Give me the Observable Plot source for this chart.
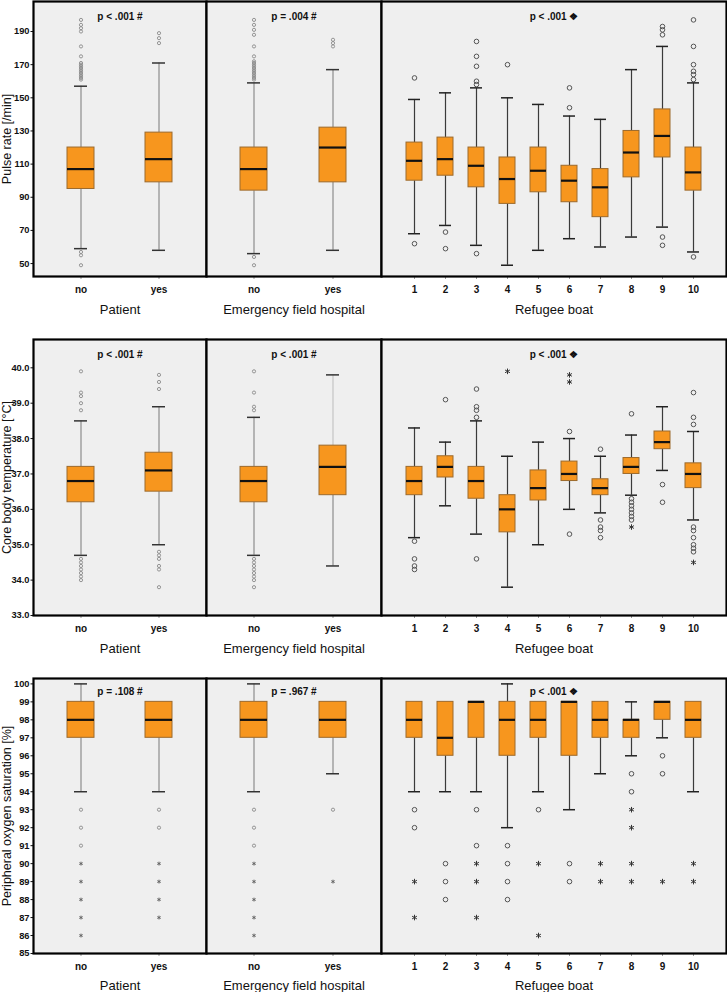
<!DOCTYPE html>
<html>
<head>
<meta charset="utf-8">
<script src="https://cdn.jsdelivr.net/npm/d3@7"></script>
<script src="https://cdn.jsdelivr.net/npm/@observablehq/plot@0.6"></script>
<style>
  html, body { margin: 0; padding: 0; background: #ffffff; }
  #root { position: relative; width: 727px; height: 992px; overflow: hidden; font-family: "Liberation Sans", Arial, sans-serif; }
  .panel { position: absolute; }
</style>
</head>
<body>
<div id="root"></div>
<script>
// ---------- categories ----------
const panelNames = ["Patient", "Emergency field hospital", "Refugee boat"];
const patientCats = ["no", "yes"];
const hospitalCats = ["no", "yes"];
const boatCats = ["1", "2", "3", "4", "5", "6", "7", "8", "9", "10"];
// order of all stats arrays: Patient no, yes | Hospital no, yes | Boat 1..10

// ---------- Pulse rate ----------
const pulseLabel = "Pulse rate [/min]";
const pulseTicks = [50, 70, 90, 110, 130, 150, 170, 190];
const pulseP = ["p < .001 #", "p = .004 #", "p < .001 \u2756"];
const pulseLo  = [59, 58, 56, 58, 68, 73, 61, 49, 58, 65, 60, 66, 72, 57];
const pulseQ1  = [95, 99, 94, 99, 100, 103, 96, 86, 93, 87, 78, 102, 114, 94];
const pulseMed = [107, 113, 107, 120, 112, 113, 109, 101, 106, 100, 96, 117, 127, 105];
const pulseQ3  = [120, 129, 120, 132, 123, 126, 120, 114, 120, 109, 107, 130, 143, 120];
const pulseHi  = [157, 171, 159, 167, 149, 153, 156, 150, 146, 139, 137, 167, 181, 159];
const pulseOutCircle = [
  [197, 194, 192, 190, 181, 175, 171, 170, 169, 168, 167, 166, 165, 164, 163, 162, 161, 57, 55, 49],
  [189, 186, 183],
  [197, 194, 191, 188, 181, 175, 172, 171, 170, 169, 168, 167, 166, 165, 164, 163, 162, 161, 54, 49],
  [185, 183, 181],
  [162, 62],
  [69, 59],
  [184, 175, 169, 160, 158, 56],
  [170],
  [],
  [156, 144],
  [],
  [],
  [193, 191, 188, 66, 61],
  [197, 181, 170, 166, 164, 161, 54]
];
const pulseOutStar = [[], [], [], [], [], [], [], [], [], [], [], [], [], []];

// ---------- Core body temperature ----------
const tempLabel = "Core body temperature [\u00B0C]";
const tempTicks = [33, 34, 35, 36, 37, 38, 39, 40];
const tempP = ["p < .001 #", "p < .001 #", "p < .001 \u2756"];
const tempLo  = [34.7, 35.0, 34.7, 34.4, 35.2, 36.1, 35.3, 33.8, 35.0, 36.0, 35.9, 36.4, 37.1, 35.7];
const tempQ1  = [36.2, 36.5, 36.2, 36.4, 36.4, 36.9, 36.3, 35.35, 36.25, 36.8, 36.4, 37.0, 37.7, 36.6];
const tempMed = [36.8, 37.1, 36.8, 37.2, 36.8, 37.2, 36.8, 36.0, 36.6, 37.0, 36.6, 37.2, 37.9, 37.0];
const tempQ3  = [37.2, 37.6, 37.2, 37.8, 37.2, 37.5, 37.2, 36.4, 37.1, 37.35, 36.85, 37.45, 38.2, 37.3];
const tempHi  = [38.5, 38.9, 38.6, 39.8, 38.3, 37.9, 38.5, 37.5, 37.9, 38.0, 37.5, 38.1, 38.9, 38.2];
const tempOutCircle = [
  [39.9, 39.3, 39.2, 39.0, 38.8, 34.6, 34.5, 34.4, 34.3, 34.2, 34.1, 34.0],
  [39.8, 39.6, 39.4, 34.8, 34.7, 34.6, 34.4, 34.3, 33.8],
  [39.9, 39.3, 38.9, 38.8, 34.6, 34.5, 34.4, 34.3, 34.2, 34.1, 34.0, 33.8],
  [],
  [35.1, 34.6, 34.4, 34.3],
  [39.1],
  [39.4, 38.9, 38.8, 38.6, 34.6],
  [],
  [],
  [38.2, 35.3],
  [37.7, 35.7, 35.5, 35.4, 35.2],
  [38.7, 36.3, 36.2, 36.1, 36.0, 35.9, 35.8, 35.7],
  [36.7, 36.2],
  [39.3, 38.6, 38.4, 35.5, 35.4, 35.2, 35.0, 34.9, 34.8]
];
const tempOutStar = [[], [], [], [], [], [], [], [39.9], [], [39.8, 39.6], [], [35.5], [], [34.5]];

// ---------- Peripheral oxygen saturation ----------
const spo2Label = "Peripheral oxygen saturation [%]";
const spo2Ticks = [85, 86, 87, 88, 89, 90, 91, 92, 93, 94, 95, 96, 97, 98, 99, 100];
const spo2P = ["p = .108 #", "p = .967 #", "p < .001 \u2756"];
const spo2Lo  = [94, 94, 94, 95, 94, 94, 94, 92, 94, 93, 95, 96, 97, 94];
const spo2Q1  = [97, 97, 97, 97, 97, 96, 97, 96, 97, 96, 97, 97, 98, 97];
const spo2Med = [98, 98, 98, 98, 98, 97, 99, 98, 98, 99, 98, 98, 99, 98];
const spo2Q3  = [99, 99, 99, 99, 99, 99, 99, 99, 99, 99, 99, 98, 99, 99];
const spo2Hi  = [100, 99, 100, 99, 99, 99, 99, 100, 99, 99, 99, 99, 99, 99];
const spo2OutCircle = [
  [93, 92, 91], [93, 92], [93, 92, 91], [93],
  [93, 92], [90, 89, 88], [93, 91], [91, 90, 89, 88], [93], [90, 89], [], [95, 94], [96, 95], []
];
const spo2OutStar = [
  [90, 89, 88, 87, 86], [90, 89, 88, 87], [90, 89, 88, 87, 86], [89],
  [89, 87], [], [90, 89, 87], [], [90, 86], [], [90, 89], [93, 92, 90, 89], [89], [90, 89]
];

// ---------- layout ----------
const FONT = "'Liberation Sans', Arial, Helvetica, sans-serif";
const BOX_FILL = "#f7961e";
const BOX_STROKE = "#9c6a2c";
const BG = "#efefef";

const rows = [
  {label: pulseLabel, ticks: pulseTicks, fmt: d3.format("d"), domain: [42.2, 208.1], p: pulseP,
   lo: pulseLo, q1: pulseQ1, med: pulseMed, q3: pulseQ3, hi: pulseHi, oc: pulseOutCircle, os: pulseOutStar,
   top: 0, height: 322, mt: 1, mb: 46, pdy: 11, tdy: 37},
  {label: tempLabel, ticks: tempTicks, fmt: d3.format(".1f"), domain: [33.0, 40.8], p: tempP,
   lo: tempLo, q1: tempQ1, med: tempMed, q3: tempQ3, hi: tempHi, oc: tempOutCircle, os: tempOutStar,
   top: 322, height: 338, mt: 17, mb: 45, pdy: 11, tdy: 37},
  {label: spo2Label, ticks: spo2Ticks, fmt: d3.format("d"), domain: [85, 100.3], p: spo2P,
   lo: spo2Lo, q1: spo2Q1, med: spo2Med, q3: spo2Q3, hi: spo2Hi, oc: spo2OutCircle, os: spo2OutStar,
   top: 660, height: 332, mt: 18, mb: 39, pdy: 9, tdy: 36}
];

const panels = [
  {cats: patientCats, offset: 0, left: 0, width: 207, ml: 33, pi: 0.658, po: 0.424, boat: false},
  {cats: hospitalCats, offset: 2, left: 205, width: 177, ml: 1, pi: 0.658, po: 0.424, boat: false},
  {cats: boatCats, offset: 4, left: 380, width: 347, ml: 1, pi: 0.49, po: 0.68, boat: true}
];

const root = document.getElementById("root");

rows.forEach((row, ri) => {
  panels.forEach((pan, pi) => {
    const stats = pan.cats.map((c, i) => {
      const k = pan.offset + i;
      return {cat: c, lo: row.lo[k], q1: row.q1[k], med: row.med[k], q3: row.q3[k], hi: row.hi[k]};
    });
    const circles = [], stars = [];
    pan.cats.forEach((c, i) => {
      const k = pan.offset + i;
      row.oc[k].forEach(v => circles.push({cat: c, v}));
      row.os[k].forEach(v => stars.push({cat: c, v}));
    });
    const whiskerColor = pan.boat ? "#3a3a3a" : "#8c8c8c";
    const capColor = pan.boat ? "#222" : "#333";
    const outColor = pan.boat ? "#555" : "#8a8a8a";
    const capInset = pan.boat ? 2 : 7;

    const marks = [
      Plot.frame({fill: BG}),
      // whiskers
      Plot.ruleX(stats, {x: "cat", y1: "lo", y2: "q1", stroke: whiskerColor, strokeWidth: 1.2}),
      Plot.ruleX(stats, {x: "cat", y1: "q3", y2: "hi",
        stroke: (d) => (ri === 1 && pi === 1 && d.cat === "yes") ? "#c4c4c4" : whiskerColor, strokeWidth: 1.2}),
      // caps
      Plot.tickY(stats.filter(d => d.lo < d.q1), {x: "cat", y: "lo", stroke: capColor, strokeWidth: 1.5, insetLeft: capInset, insetRight: capInset}),
      Plot.tickY(stats.filter(d => d.hi > d.q3), {x: "cat", y: "hi", stroke: capColor, strokeWidth: 1.5, insetLeft: capInset, insetRight: capInset}),
      // boxes
      Plot.barY(stats, {x: "cat", y1: "q1", y2: "q3", fill: BOX_FILL, stroke: BOX_STROKE, strokeWidth: 1}),
      Plot.tickY(stats, {x: "cat", y: "med", stroke: "#111", strokeWidth: 2.2}),
      // outliers
      Plot.dot(circles, {x: "cat", y: "v", r: pan.boat ? 2.3 : 1.6, stroke: outColor, strokeWidth: pan.boat ? 1 : 0.9, fill: "none"}),
      Plot.dot(stars, {x: "cat", y: "v", symbol: "asterisk", r: pan.boat ? 2.6 : 1.8, stroke: pan.boat ? "#333" : "#666", strokeWidth: 1}),
      // p value
      Plot.text([row.p[pi]], {text: d => d, frameAnchor: "top", dy: row.pdy, fontWeight: "bold", fontSize: 10, fill: "#111"}),
      // x axis (tick labels) and title
      Plot.axisX({tickSize: 3, tickPadding: 6, fontWeight: "bold", fontSize: 10, stroke: "#999", label: null}),
      Plot.text([panelNames[pi]], {text: d => d, frameAnchor: "bottom", dy: row.tdy, fontSize: 13, fill: "#111"}),
      Plot.frame({stroke: "#000", strokeWidth: 2.2})
    ];
    if (pi === 0) {
      marks.splice(marks.length - 1, 0,
        Plot.axisY({ticks: row.ticks, tickFormat: row.fmt, tickSize: 2.5, tickPadding: 1.5, fontWeight: "bold", fontSize: 9.3, label: null}),
        Plot.text([row.label], {text: d => d, frameAnchor: "left", textAnchor: "middle", lineAnchor: "middle", rotate: -90, dx: -27, fontSize: 12.5, fill: "#111"}));
    }

    const chart = Plot.plot({
      width: pan.width,
      height: row.height,
      marginLeft: pan.ml,
      marginRight: 1,
      marginTop: row.mt,
      marginBottom: row.mb,
      style: {background: "transparent", overflow: "visible", fontFamily: FONT, fontSize: "12.5px", color: "#111"},
      x: {type: "band", domain: pan.cats, paddingInner: pan.pi, paddingOuter: pan.po, axis: null},
      y: {domain: row.domain, axis: null},
      marks
    });
    const div = document.createElement("div");
    div.className = "panel";
    div.style.left = pan.left + "px";
    div.style.top = row.top + "px";
    div.appendChild(chart);
    root.appendChild(div);
  });
});
</script>
</body>
</html>
